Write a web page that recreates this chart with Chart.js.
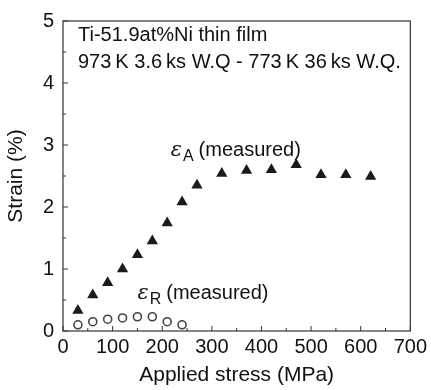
<!DOCTYPE html>
<html>
<head>
<meta charset="utf-8">
<script src="https://cdn.jsdelivr.net/npm/chart.js@4"></script>
<style>
  html, body { margin: 0; padding: 0; background: #fff; }
  #wrap { width: 431px; height: 390px; }
</style>
</head>
<body>
<div id="wrap"><canvas id="chart" width="431" height="390"></canvas></div>
<script>
// data
const stressA = [30, 60, 90, 120, 150, 180, 210, 240, 270, 320, 370, 420, 470, 520, 570, 620];
const strainA = [0.33, 0.58, 0.78, 1.0, 1.23, 1.45, 1.74, 2.08, 2.35, 2.54, 2.59, 2.6, 2.68, 2.52, 2.52, 2.49];
const stressR = [30, 60, 90, 120, 150, 180, 210, 240];
const strainR = [0.1, 0.15, 0.19, 0.21, 0.23, 0.23, 0.15, 0.1];
const xTicks = [0, 100, 200, 300, 400, 500, 600, 700];
const yTicks = [0, 1, 2, 3, 4, 5];
const titleLines = ['Ti-51.9at%Ni thin film', '973\u2009K 3.6\u2009ks W.Q - 773\u2009K 36\u2009ks W.Q.'];

const FONT = "'Liberation Sans', Arial, sans-serif";

(() => {
    const toPoints = (xs, ys) => xs.map((x, i) => ({ x: x, y: ys[i] }));

    // frame, inward ticks and the text labels inside the plot
    const decor = {
        id: 'decor',
        afterDraw(chart) {
            const ctx = chart.ctx;
            const a = chart.chartArea;
            const xs = chart.scales.x, ys = chart.scales.y;
            ctx.save();
            ctx.strokeStyle = '#333';
            ctx.lineWidth = 1.2;
            ctx.strokeRect(a.left, a.top, a.right - a.left, a.bottom - a.top);

            ctx.lineWidth = 1;
            for (let v = 0; v <= 700; v += 50) {
                const px = xs.getPixelForValue(v);
                const len = v % 100 === 0 ? 5 : 3;
                ctx.beginPath();
                ctx.moveTo(px, a.bottom); ctx.lineTo(px, a.bottom - len);
                ctx.stroke();
            }
            for (let v = 0; v <= 5; v += 0.5) {
                const py = ys.getPixelForValue(v);
                const len = v % 1 === 0 ? 5 : 3;
                ctx.beginPath();
                ctx.moveTo(a.left, py); ctx.lineTo(a.left + len, py);
                ctx.stroke();
            }

            ctx.fillStyle = '#111';
            ctx.textBaseline = 'alphabetic';
            ctx.textAlign = 'left';
            ctx.font = '20px ' + FONT;
            ctx.fillText(titleLines[0], a.left + 15, a.top + 20);
            ctx.fillText(titleLines[1], a.left + 15, a.top + 47);

            const label = (sub, x, y) => {
                let px = xs.getPixelForValue(x), py = ys.getPixelForValue(y);
                ctx.font = 'italic 21px "DejaVu Serif", serif';
                ctx.fillText('\u03b5', px, py);
                px += ctx.measureText('\u03b5').width + 1;
                ctx.font = '16px ' + FONT;
                ctx.fillText(sub, px, py + 5);
                px += ctx.measureText(sub).width + 5;
                ctx.font = '20px ' + FONT;
                ctx.fillText('(measured)', px, py);
            };
            label('A', 217, 2.82);
            label('R', 150, 0.52);
            ctx.restore();
        }
    };

    new Chart(document.getElementById('chart'), {
        type: 'scatter',
        data: {
            datasets: [
                {
                    label: 'eA',
                    data: toPoints(stressA, strainA),
                    pointStyle: 'triangle',
                    pointRadius: 6.5,
                    backgroundColor: '#1a1a1a',
                    borderColor: '#1a1a1a',
                    borderWidth: 0
                },
                {
                    label: 'eR',
                    data: toPoints(stressR, strainR),
                    pointStyle: 'circle',
                    pointRadius: 4,
                    backgroundColor: 'rgba(0,0,0,0)',
                    borderColor: '#444',
                    borderWidth: 1.6
                }
            ]
        },
        options: {
            responsive: false,
            animation: false,
            layout: { padding: { top: 14, right: 17, left: 0, bottom: 0 } },
            plugins: { legend: { display: false }, tooltip: { enabled: false } },
            scales: {
                x: {
                    type: 'linear', min: 0, max: 700,
                    afterBuildTicks: s => { s.ticks = xTicks.map(v => ({ value: v })); },
                    afterFit: s => { s.height = 59; },
                    grid: { display: false, drawTicks: false },
                    border: { display: false },
                    ticks: { color: '#111', padding: 4, maxRotation: 0, font: { family: FONT, size: 20 } },
                    title: {
                        display: true, text: 'Applied stress (MPa)', color: '#111',
                        padding: { top: 0, bottom: 2 }, font: { family: FONT, size: 21 }
                    }
                },
                y: {
                    type: 'linear', min: 0, max: 5,
                    afterBuildTicks: s => { s.ticks = yTicks.map(v => ({ value: v })); },
                    afterFit: s => { s.width = 63; },
                    grid: { display: false, drawTicks: false },
                    border: { display: false },
                    ticks: { color: '#111', padding: 9, font: { family: FONT, size: 20 } },
                    title: {
                        display: true, text: 'Strain (%)', color: '#111',
                        padding: { top: 4, bottom: 0 }, font: { family: FONT, size: 21 }
                    }
                }
            }
        },
        plugins: [decor]
    });
})();
</script>
</body>
</html>
